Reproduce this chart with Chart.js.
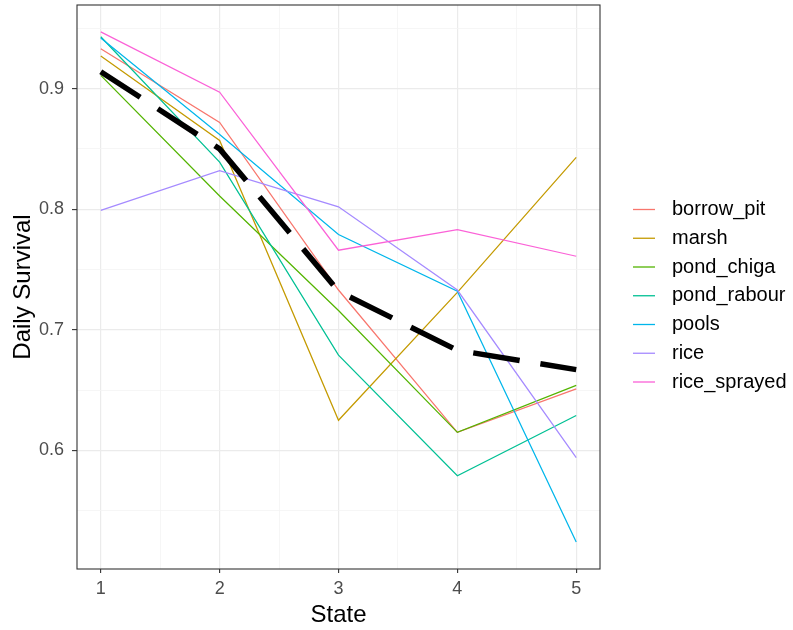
<!DOCTYPE html>
<html lang="en">
<head>
  <meta charset="UTF-8">
  <title>Daily Survival by State</title>
  <style>
    body {
      margin: 0;
      background: #ffffff;
    }
    #chartBox {
      width: 793px;
      height: 630px;
    }
  </style>
  <script src="https://cdn.jsdelivr.net/npm/chart.js"></script>
</head>
<body>
  <div id="chartBox">
    <canvas id="survivalChart" width="793" height="630"></canvas>
  </div>

  <script>
    // datos
    var states = [1, 2, 3, 4, 5];
    var habitats = ['borrow_pit', 'marsh', 'pond_chiga', 'pond_rabour', 'pools', 'rice', 'rice_sprayed'];
    var borrowPit   = [0.933, 0.872, 0.733, 0.615, 0.651];
    var marsh       = [0.927, 0.857, 0.625, 0.731, 0.843];
    var pondChiga   = [0.911, 0.811, 0.716, 0.615, 0.654];
    var pondRabour  = [0.943, 0.839, 0.679, 0.579, 0.629];
    var pools       = [0.942, 0.862, 0.779, 0.732, 0.524];
    var rice        = [0.799, 0.832, 0.802, 0.733, 0.594];
    var riceSprayed = [0.947, 0.897, 0.766, 0.783, 0.761];
    var meanSurvival = [0.914, 0.850, 0.732, 0.683, 0.667];
    var xTicks = [1, 1.5, 2, 2.5, 3, 3.5, 4, 4.5, 5];
    var yTicks = [0.55, 0.6, 0.65, 0.7, 0.75, 0.8, 0.85, 0.9, 0.95];

    var habitatValues = [borrowPit, marsh, pondChiga, pondRabour, pools, rice, riceSprayed];
    var habitatColors = ['#F8766D', '#C49A00', '#53B400', '#00C094', '#00B6EB', '#A58AFF', '#FB61D7'];
    var fontFamily = "'Liberation Sans', Arial, sans-serif";

    function toPoints(values) {
      return values.map(function (v, i) { return { x: states[i], y: v }; });
    }

    function isMajor(v, step) {
      return Math.abs(v / step - Math.round(v / step)) < 1e-6;
    }

    var datasets = habitats.map(function (name, i) {
      return {
        label: name,
        data: toPoints(habitatValues[i]),
        borderColor: habitatColors[i],
        borderWidth: 1.25,
        pointRadius: 0,
        fill: false,
        order: habitats.length - i
      };
    });
    datasets.push({
      label: 'mean',
      data: toPoints(meanSurvival),
      borderColor: '#000000',
      borderWidth: 5.5,
      borderDash: [47, 21],
      borderCapStyle: 'butt',
      pointRadius: 0,
      fill: false,
      order: -1
    });

    // borde del panel y leyenda a la derecha
    var panelPlugin = {
      id: 'panelPlugin',
      afterDatasetsDraw: function (chart) {
        var a = chart.chartArea;
        var ctx = chart.ctx;
        ctx.save();
        ctx.strokeStyle = '#333333';
        ctx.lineWidth = 1.1;
        ctx.strokeRect(a.left, a.top, a.right - a.left, a.bottom - a.top);
        ctx.restore();
      },
      afterDraw: function (chart) {
        var ctx = chart.ctx;
        ctx.save();
        ctx.font = '20px ' + fontFamily;
        ctx.textBaseline = 'middle';
        ctx.textAlign = 'left';
        habitats.forEach(function (name, i) {
          var y = 209.5 + i * 28.75;
          ctx.strokeStyle = habitatColors[i];
          ctx.lineWidth = 1.3;
          ctx.beginPath();
          ctx.moveTo(633, y);
          ctx.lineTo(655, y);
          ctx.stroke();
          ctx.fillStyle = '#000000';
          ctx.fillText(name, 672, y);
        });
        ctx.restore();
      }
    };

    var ctxSurvival = document.getElementById('survivalChart').getContext('2d');
    var survivalChart = new Chart(ctxSurvival, {
      type: 'line',
      data: { datasets: datasets },
      plugins: [panelPlugin],
      options: {
        responsive: false,
        animation: false,
        devicePixelRatio: 1,
        layout: { padding: { top: 5, right: 193, left: 0, bottom: 0 } },
        plugins: {
          legend: { display: false },
          tooltip: { enabled: false }
        },
        scales: {
          x: {
            type: 'linear',
            min: 0.8,
            max: 5.2,
            afterBuildTicks: function (scale) {
              scale.ticks = xTicks.map(function (v) { return { value: v }; });
            },
            afterFit: function (scale) {
              scale.height = 61;
              scale.paddingLeft = 0;
              scale.paddingRight = 0;
            },
            border: { display: false },
            grid: {
              color: function (c) { return isMajor(c.tick.value, 1) ? '#EBEBEB' : '#F4F4F4'; },
              lineWidth: function (c) { return isMajor(c.tick.value, 1) ? 1.2 : 0.8; },
              tickColor: function (c) { return isMajor(c.tick.value, 1) ? '#333333' : 'rgba(0,0,0,0)'; },
              tickLength: 4,
              tickWidth: 1.1
            },
            ticks: {
              autoSkip: false,
              maxRotation: 0,
              padding: 5,
              color: '#4D4D4D',
              font: { family: fontFamily, size: 18 },
              callback: function (v) { return isMajor(v, 1) ? String(v) : ''; }
            },
            title: {
              display: true,
              text: 'State',
              color: '#000000',
              font: { family: fontFamily, size: 24 },
              padding: { top: 0, bottom: 0 }
            }
          },
          y: {
            type: 'linear',
            min: 0.5017,
            max: 0.9693,
            afterBuildTicks: function (scale) {
              scale.ticks = yTicks.map(function (v) { return { value: v }; });
            },
            afterFit: function (scale) {
              scale.width = 77;
              scale.paddingTop = 0;
              scale.paddingBottom = 0;
            },
            border: { display: false },
            grid: {
              color: function (c) { return isMajor(c.tick.value, 0.1) ? '#EBEBEB' : '#F4F4F4'; },
              lineWidth: function (c) { return isMajor(c.tick.value, 0.1) ? 1.2 : 0.8; },
              tickColor: function (c) { return isMajor(c.tick.value, 0.1) ? '#333333' : 'rgba(0,0,0,0)'; },
              tickLength: 5,
              tickWidth: 1.1
            },
            ticks: {
              autoSkip: false,
              padding: 8,
              color: '#4D4D4D',
              font: { family: fontFamily, size: 18 },
              callback: function (v) { return isMajor(v, 0.1) ? v.toFixed(1) : ''; }
            },
            title: {
              display: true,
              text: 'Daily Survival',
              color: '#000000',
              font: { family: fontFamily, size: 24 },
              padding: { top: 9, bottom: 0 }
            }
          }
        }
      }
    });
  </script>
</body>
</html>
